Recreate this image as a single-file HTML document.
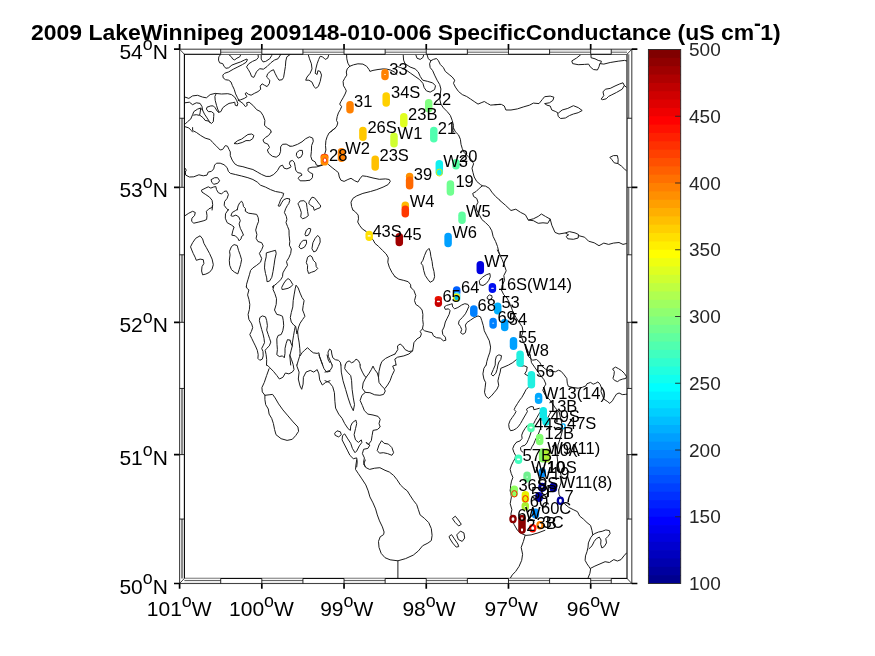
<!DOCTYPE html><html><head><meta charset="utf-8"><title>Lake Winnipeg Specific Conductance</title>
<style>html,body{margin:0;padding:0;background:#fff}svg{display:block}text{font-family:"Liberation Sans",sans-serif}</style></head><body>
<svg width="875" height="656" viewBox="0 0 875 656">
<rect width="875" height="656" fill="#fff"/>
<g fill="none" stroke="#1c1c1c" stroke-width="1" stroke-linejoin="round" stroke-linecap="round">
<path d="M220.5 54.6 L218.8 56.9 L218.5 60.1 L219.6 62.8 L222.8 63.7 L224.1 66.5 L226 68.3 L228.7 67.8 L231.9 65.1 L236 63.5 L240.6 61.9 L244.3 60.1 L247 59 L247.4 59.9 L246.1 62.3 L242.4 64.6 L237.9 66.9 L233.3 69.2 L228.7 71.9 L224.6 73.3 L222.8 75.1 L223.2 77.9 L225.5 79.7 L228.7 80.2 L231 82 L232.4 85.6 L234.2 89.3 L235.6 93.9 L237.4 97.5 L238.9 100.5"/>
<path d="M228.7 54.6 L231 56.4 L232.8 59.1 L234.7 59.9 L236.9 58.2 L239.7 56.9 L240.6 55 L240.1 54.4"/>
<path d="M258 54.4 L258.4 57.3 L256.6 59.6 L252.5 61.4 L248.8 63.7 L246.5 66.9 L248.4 69.7 L250.2 72.9 L251.6 76.5 L253.8 77.4 L255.2 74.7 L256.6 71.5 L259.8 68.7 L263.4 69.2 L267.1 66.5 L270.8 62.8 L274.4 60.1 L278.1 58.7 L280.4 55 L280.6 54.4"/>
<path d="M261.2 54.6 L261.2 59.1 L263 61.9 L265.7 61.4 L269.8 58.7 L271.7 55.5 L271.9 54.4"/>
<path d="M290 54.6 L286.8 56.9 L285.8 61 L285.4 66.5 L284.5 71.9 L283.6 77.4 L282.2 79.7 L279 80.2 L277.2 77.4 L275.3 73.8 L273.5 69.7 L270.8 71 L267.6 73.8 L266.6 77 L269.8 80.2 L269.4 83.4 L267.1 86.6 L264.4 85.2 L262.1 83.8 L260.2 86.1 L260.7 89.3 L258 91.6 L254.3 93.4 L251.1 95.2 L248.4 94.3 L246.1 92.5 L245.2 93.9 L247 96.6 L244.3 98.4 L240.6 99.8 L238.3 100.3"/>
<path d="M185 97.1 L188.8 98.4 L192.6 95.9 L197.6 95.3 L202.6 97.1 L206.4 97.8 L210.2 94.6 L215.2 93.4 L221.5 94 L227.8 93.7 L231.5 94.6 L234.7 97.1 L236.6 100.3 L237.8 103.4 L237.2 105.9 L235.3 105.3 L234.7 102.2 L232.2 102.8 L229 103.4 L225.9 105.3 L222.7 107.8 L220.9 111.6 L219 112.2 L217.7 109.1 L216.5 105.3 L215.2 100.3 L214.9 96.5 L216.1 93.7"/>
<path d="M185 102.8 L189.4 102.2 L192.6 104.7 L196.3 102.8 L200.1 103.4 L202 106.6 L202.6 110.3 L204.5 114.1 L207 117.9 L209.5 121.7 L211.4 123.5 L213.3 121.7 L213.7 116.6 L213.9 113.5 L211.4 111.6 L208.3 111.6 L206.4 109.1 L207 107.2 L210.8 105.9 L213.3 105.9 L215.2 107.8 L217.1 111 L218.7 112.5"/>
<path d="M185 124.2 L187.5 121.7 L190.7 119.1 L192.6 114.7 L193.8 111.6 L197.6 109.1 L200.7 108.1 L200.1 112.9 L199.5 115.4 L196.3 114.7 L193.6 115.1"/>
<path d="M200.7 108.1 L202.6 110.3"/>
<path d="M200.1 115.4 L203.3 117.9 L205.1 120.4 L208.3 121 L210.2 122.9"/>
<path d="M185 126.7 L188.8 127.9 L191.3 130.5 L192.6 132"/>
<path d="M238.5 100.3 L242.9 103.4 L245.4 106.6 L247.3 105.3 L246.6 102.8 L249.1 102.2 L252.9 105.3 L256.7 109.7 L260.5 111.6 L263 115.4 L264.9 120.4 L264.5 125.4 L267.4 127.9 L270.5 129.8 L271.1 132"/>
<path d="M308.3 54.8 L309.5 58.8 L311.4 63.8 L312 68.9 L310.1 73.3 L307 77 L305.7 80.2 L308.9 80.2 L312 82.1 L313.9 86.5 L315.8 88.3 L318.3 86.5 L320.2 81.4 L321.5 75.1 L320.2 71.4 L317.9 70.7 L317.1 74.5 L315.2 73.3 L315.8 68.9 L317.1 63.8 L318.7 59.4 L320.2 56.3 L322.7 56.9 L325.2 59.4 L327.7 58.2 L328.7 55"/>
<path d="M346.6 54.8 L346.8 58.8 L347.9 63.2 L349.7 66.3 L353.5 64.8 L357.9 63.8 L362.9 64.1 L366.7 66.3 L369 69.5 L369.9 71.4 L373 70.4 L378 69.5 L383.1 68.9 L386.8 69.1 L390.6 70.1 L394.4 72 L396.9 74.5"/>
<path d="M349.7 66.3 L347.2 68.9 L346.3 72 L346.8 75.1 L344.7 78.3 L343.1 81.4 L343.5 85.8 L345.1 88.3 L346.3 90.9 L345.1 94 L343.1 97.8 L340.9 101.5 L339.7 104.1 L341.6 106.6 L340.3 109.7 L338.4 112.9 L337.2 116.6 L336.5 120.4 L337.8 122.9 L336.8 126.1 L334.7 128.6 L332.1 130.5 L330.9 132"/>
<path d="M403.2 54.8 L403.6 60.1 L405.1 63.8 L410.1 67 L415.1 68.9 L418.3 72 L420.2 76.4 L422.7 80.2 L427.7 81.4 L432.7 82.9 L435.5 85.8 L434.6 89.6 L430.2 92.1 L426.5 90.9 L424.2 87.7 L422.9 83.3 L419.5 79.5 L415.1 76.4 L410.7 73.3 L407 70.7 L403.8 68.9 L400.7 67.6 L397.5 66.6"/>
<path d="M415.8 54.8 L417 58.2 L420.2 59.4 L422.9 57.5 L423.7 54.8"/>
<path d="M427.1 54.8 L428.3 58.8 L430.9 60.7 L433.4 59.4 L436.5 58.5 L438.4 60.7 L440.3 64.5 L443.4 67.6 L445.3 71.4 L449.1 74.5 L452.2 77 L454.7 80.2 L453.5 83.3 L455.4 87.1 L458.5 91.5 L462.3 94.6 L466.7 96.5 L470.5 99 L474.2 101.5 L478 104.1 L481.1 102.8 L484.3 101.5 L487.4 103.4 L490.6 105.1 L495.6 104.7 L500 104.3"/>
<path d="M430.9 60.7 L429.6 63.8 L430.2 67.6 L432.7 70.7 L434.6 75.1 L437.1 80.2 L439.7 84.6 L440.9 89 L440.3 94 L439.7 99 L440.9 104.1 L443.4 107.8 L447.2 111.6 L450.3 115.4 L452.2 120.4 L453.5 125.4 L452.9 130.5 L453.5 132"/>
<path d="M495 104.7 L501.4 104.4 L504.3 106 L505.9 110 L511 110 L517.4 108.9 L523.8 106.8 L529.4 105.2 L533.4 103.1 L539 103.6 L542.2 99.6 L544.6 96.7 L550.2 96.1 L553.9 97.2 L552.9 100.4 L549.4 102.8 L544.6 103.6 L547 105.2 L550.2 106 L551.8 110 L555.8 111.6 L558.2 113.2 L562.2 110 L567.8 108.4 L573.4 105.7 L578.2 107.6 L582.2 110.5 L578.2 112.7 L573.4 114 L569.4 115.6 L565.4 118 L560.6 118.5 L558.2 116.4 L557.7 113.5"/>
<path d="M580.6 54.8 L576.6 58 L571.8 60.9 L572.6 63.6 L578.2 64.7 L584.6 64.4 L588.6 64.1 L590.2 66.8 L593.4 69.5 L597.4 70 L599 66.8 L599.8 63.6 L603.8 64.1 L610.2 62.5 L618.2 61.2 L624.6 60.4 L626.5 60.9"/>
<path d="M591 54.8 L591 57.7 L595 58.8 L598.2 60.4 L601.4 61.2 L600.6 63.6"/>
<path d="M601.4 98.8 L603.8 95.6 L603 91.9 L605.4 89.2 L610.2 88.4 L615 86 L619.8 83.9 L623 82.8 L624.3 85.5 L622.2 89.2 L616.6 92.4 L611.8 94.8 L608.6 96.4 L606.2 98.8 L603 99.6 Z"/>
<path d="M624.3 85.5 L626.2 87.1"/>
<path d="M192.6 127.6 L192.6 130.5 L196.3 132.4 L200.7 135.5 L205.1 138.1 L210.2 139.6 L212.7 142.5 L216.5 146.2 L220.2 150 L222.7 149.4 L225.3 145.6 L227.5 146.2 L229 149.4 L230.3 151.9 L230.3 155.7 L232.2 160.1 L234.7 163.8 L237.8 165.7 L242.9 166.7 L247.9 168.2 L252.9 169.5 L257.3 172 L261.7 174.5 L266.1 176.4 L269.9 176.4 L273.7 174.5 L277.4 170.7 L279.9 166.3 L282.5 165.1 L284.1 168.2 L286.9 168.9 L290 167.6"/>
<path d="M234.3 143.3 L237.8 140.6 L241.6 139.1 L244.7 136.8 L247.9 134.5 L251.7 134 L253.9 135.5 L252.7 138.7 L249.8 140.6 L246 140.6 L242.2 142.5 L237.8 143.7 Z"/>
<path d="M271.1 132 L268.6 135.5 L265.5 137.4 L263 139.9 L264 142.5 L268 144.3 L269.5 147.5 L267.4 150 L268.6 153.1 L272.4 156.3 L276.2 157.2 L279.3 155 L280.6 151.3 L280.6 146.9 L282.5 144.3 L286.2 144.1 L290 146.2"/>
<path d="M185 168.2 L186.3 170.1 L185.3 172 L185.7 175.1 L189.4 177 L193.8 176.8 L198.9 174.8 L203.3 175.8 L207 175.1 L208.3 172 L211.4 171.4 L213.7 168.9 L214.6 165.1 L216.5 163.2 L220.2 163.2 L224 164.7 L227.1 167.6 L228.4 171.4 L230.3 173.3 L235.3 174.5 L241.6 176 L247.9 177.7 L252.9 179.5 L257.3 182.1 L260.5 185.2 L265.5 187.1 L270.5 189.6 L275.5 191.5 L280.6 192.4 L283.7 193.4 L282.8 196.5 L280.6 199.7 L279.3 203.4 L278.1 205.9 L279.9 206.2 L281.6 202.8 L283.7 199.7 L286.9 198.4 L289.4 199"/>
<path d="M211.4 179.5 L214.6 177.7 L217.7 177.7 L219.6 180.8 L217.7 183.3 L213.9 184.3 L212.1 182.7 Z"/>
<path d="M212.1 210 L212.7 204.7 L212.1 200.3 L209.5 197.1 L205.8 194.6 L202 192.1 L201.4 190.2 L205.1 188.3 L208.3 186.8 L210.8 188.1 L213.3 187.1 L215.8 186.5 L216.5 189.6 L218.3 192.7 L221.5 194 L224 191.5 L226.5 190.9 L228.4 194.6 L227.1 198.4 L224.6 201.5 L224.2 205.3 L226.5 208.5 L228.4 210"/>
<path d="M237.2 210 L238.1 205.9 L239.7 202.8 L241.6 201.2 L242.9 203.4 L243.5 206.6 L245.4 208.5 L245.4 210.3"/>
<path d="M335.3 128 L332.1 130.5 L329 133 L327.1 136.8 L325.9 140.6 L325.5 145.6 L325.9 150 L324.6 154.4 L324.2 159.4 L328.4 164.5 L332.1 167.6 L335.3 170.1 L338.4 172.6 L339.3 177 L340.9 180.2 L344.1 181.4 L347.9 179.5 L351 178.3 L354.8 180.8 L357.9 182.1 L359.8 178.9 L362.3 175.8 L366.7 176.4 L373 178 L379.3 179.3 L385.6 178.9 L389.3 179.5 L390.3 181.4 L388.1 184.6 L383.1 187.1 L376.8 189.6 L370.5 191.5 L362.9 193.4 L356.7 195.9 L352.9 198.4 L351 202.2 L351.6 206.6 L352.9 210"/>
<path d="M290 146.2 L292.5 146.2 L297.6 144.3 L302 141.8 L305.7 138.7 L309.5 136.8 L312.7 138.1 L313.3 141.2 L311.6 145.6 L311.4 151.3 L310.8 156.3 L312 160.1 L315.2 161.9 L316.4 165.1 L318.9 165.7 L322.7 164.5"/>
<path d="M322.7 165.1 L316.4 167 L312 167.2 L308.3 168.2 L307.9 170.7 L310.1 172.6 L312.7 173.9 L312.4 177.7 L310.1 180.2 L305.1 180.8 L300.1 180.8 L298.2 178.3 L299.5 176.4 L302 175.1 L301.1 173.3 L297.6 172.6 L295.7 170.1 L295.1 166.3 L294.4 162.6 L292.5 160.4 L290 161.3 L289.4 163.8 L291 166.3 L290 167.6"/>
<path d="M296.9 152.5 L299.5 150.4 L302.3 150.4 L302.6 153.8 L301.1 156.9 L298.2 158.2 L296.6 155.9 Z"/>
<path d="M453.5 128 L455.4 131.8 L458.5 134.9 L460.4 139.3 L461 144.3 L462.3 148.7 L464.2 152.5 L467.9 156.3 L471.7 160.1 L473.6 163.8 L472 168.2 L473 172.6 L474.2 177 L476.7 181.4 L480.5 184.6 L482.4 185.8 L485.5 186.1 L489.3 188.3 L491.8 192.1 L495.6 196.5 L500 200.3"/>
<path d="M482.4 185.8 L479.3 188.3 L476.1 191.5 L472.7 193.4 L473.6 196.5 L476.7 198.4 L478 202.2 L476.1 205.9 L476.7 210"/>
<path d="M499.8 200.4 L505.4 205.2 L511 210.5 L515.8 209.2 L520.6 212.4 L525.4 214.8 L528.3 220.1 L533.4 218.8 L538.2 216.4 L541.4 214 L545.4 216.4 L550.2 219.1 L547.8 223.3 L543 222.8 L538.2 223.3 L533.4 220.7 L528.6 220.1"/>
<path d="M550.2 219.1 L551.8 225.2 L555 232.4 L559 234 L565.4 232.9 L569.4 231.6 L575 232.9 L578.5 234.5 L578.2 238 L573.4 239.3 L567.8 238.8 L566.2 236.4 L568.6 234.8 L565.7 233.2"/>
<path d="M578.5 235.6 L584.6 237.2 L588.6 241.2 L594.2 242.8 L599 245.7 L603.8 243.1 L608.6 244.4 L613.4 243.1 L619 242.5 L623 244.4 L626.2 243.6"/>
<path d="M610.2 157.2 L613.4 155.6 L617.4 155.6 L618.2 159.6 L617.9 163.6 L614.2 162.8 L611.8 159.6 Z"/>
<path d="M617.9 163.6 L621.4 166 L624.6 169.2 L626.2 170.5"/>
<path d="M185 215.7 L188.8 213.2 L192.6 211.3 L195.3 212.5 L194.5 215.7 L191.9 218.2 L191.6 221.3 L193.8 223.2 L198.9 222 L203.9 220.7 L206.6 219.5 L207 215.7 L206.4 211.3 L208.9 208.8 L212.1 207.5 L212.4 205.6"/>
<path d="M228.4 209.4 L225.5 213.8 L225.3 218.2 L227.1 222.6 L231.5 225.1 L234.1 227 L232.8 230.8 L231.8 235.2 L235.3 235.8 L237.8 238.3 L239.1 240.8 L241 238.9 L241.6 236.4 L243.5 235.2 L242.2 232 L240.3 228.3 L239.1 223.9 L240.3 220.7 L238.8 216.9 L235.9 215.1 L232.8 216.3 L230.9 215.7 L232.2 212.5 L235.3 210.7 L237.2 209.4"/>
<path d="M245.4 209.8 L245.4 211.3 L248.5 213.2 L252.9 213.8 L256.7 214.4 L258.2 217.6 L258.6 221.3 L256.9 225.7 L255.7 230.1 L256.9 234.5 L256.1 238.3 L257.9 241.5 L261.7 242.7 L263.2 245.9 L261.7 249.6 L259.4 253.4 L260.5 255.9 L261.7 258.4 L260.5 262.2 L256.7 265.3 L252.9 267.9 L250.6 270.4 L249.4 274.8 L247.9 279.8 L246.6 284.2 L246.4 287"/>
<path d="M190.7 246.5 L192.6 242.7 L195.7 238.3 L200.1 235.8 L202.6 238.9 L203.9 243.3 L206.4 247.7 L209.5 253.4 L212.1 259.1 L213.3 264.7 L212.1 269.1 L209.5 272.3 L205.8 274.1 L202.6 274.8 L201.6 271 L202 266.6 L203.9 263.5 L203.3 259.7 L200.1 259.1 L196.3 260.3 L195.1 257.2 L193.2 253.4 L191.9 250.3 Z"/>
<path d="M229.7 250.9 L231.5 246.5 L234.1 244.6 L237.2 245.5 L238.5 250.3 L240.1 254.7 L241.6 259.7 L240.6 264.7 L239.1 269.7 L237.8 273.9 L234.7 272.3 L231.5 269.7 L229.7 265.3 L229.3 260.3 L230 255.3 Z"/>
<path d="M266.7 252.8 L271.1 251.5 L275.5 250.3 L276.2 253.4 L274.9 259.1 L274 265.3 L273 271.6 L271.8 277.3 L269.5 281.1 L267 281.7 L266.7 277.9 L265.5 273.5 L264.5 267.9 L264.9 262.2 L266.1 257.2 Z"/>
<path d="M289.4 199 L289.8 200.3 L288.8 203.5 L287.3 205.6 L285.6 208.8 L284.4 212.5 L286.3 216.3 L286.9 219.5 L286 222.6 L287.5 226.4 L289 230.1 L289.1 235.2 L289.8 241.5 L289.4 245.2 L291.3 249 L290.7 253.4 L288.8 257.8 L286.5 261.6 L287.5 265.3 L285 269.1 L282.9 272.9 L282.5 276.7 L280.6 279.8 L277.5 282.9 L274.3 285.5 L272.4 287"/>
<path d="M298.2 203.5 L300.1 201 L303.9 200.7 L306.4 202.9 L307 207.5 L307.6 211.3 L308.3 215.7 L305.7 217.6 L302.6 218.8 L300.7 216.9 L301.3 212.5 L300.1 208.8 L298.8 205.6 Z"/>
<path d="M309.5 201 L312 197.2 L314.5 197.8 L317.1 201 L319.6 204.4 L320.8 206 L319.9 207.8 L317.1 208.8 L314.2 210.3 L313.3 206.9 L310.8 205.6 L309.1 203.7 Z"/>
<path d="M305.1 233.9 L306.4 230.1 L308.9 228.3 L310.8 228.9 L310.1 232 L308.3 235.2 L306.1 235.8 Z"/>
<path d="M299.1 246.5 L300.7 242.7 L303.2 240.4 L306.4 240.2 L306.6 243.3 L304.5 247.1 L301.3 248.7 Z"/>
<path d="M312 248.4 L312.9 242.7 L315.2 238.3 L317.7 235.4 L319.9 237.9 L320.2 242.1 L318.3 246.5 L316.2 250.9 L314.2 251.8 Z"/>
<path d="M306.4 262.2 L307.6 257.2 L310.1 255.5 L312 256.8 L313.3 260.3 L315.8 262.8 L316.2 266.6 L317.7 268.5 L315.2 271 L311.4 272.3 L308.6 273.5 L307.4 269.7 L307.6 266 Z"/>
<path d="M352.9 210 L355.4 211.9 L358.2 215.1 L358.5 218.8 L357.7 222 L359.8 225.7 L362.3 228.9 L366.1 231.4 L369 235.8 L373 239.6 L374.9 243.3 L378.7 246.5 L382.4 250.3 L386.2 254 L388.3 257.8 L387.8 262.2 L389.3 267.2 L391.9 272.3 L395 276.7"/>
<path d="M476.7 210 L479.9 215.7 L481.8 219.5 L485.5 222.6 L489.3 226.4 L491.8 230.8 L493.1 236.4 L495.6 241.5 L497.5 246.5 L498.7 251.5 L500 255.3"/>
<path d="M421.2 262.8 L422.9 260.3 L424.6 255.3 L426.5 250.9 L429 248.4 L430.2 251.5 L430.9 256.5 L432.1 261.6 L432.7 266.6 L434 271.6 L434.6 276.7 L433.4 280.4 L430.2 282.3 L427.7 279.2 L425.2 275.4 L423.7 270.4 L422.9 266 Z"/>
<path d="M479.5 280.4 L482.4 277.3 L486.2 274.8 L489.9 273.5 L490.3 276.7 L488.7 280.4 L486.2 283.6 L483 285.5 L480.3 284.8 Z"/>
<path d="M395 276.7 L398.8 279.2 L403.8 280.4 L408.2 281.7 L410.7 284.8 L410.7 287"/>
<path d="M497.4 250 L499.8 254.8 L502.2 259.6 L504.6 266 L506.2 270.8 L503.8 275.6 L504.6 280.4 L502.2 285.2 L501.4 290 L503.8 294.8 L507 298 L510.2 304.4 L512.6 310.8 L515.8 317.2 L519 322 L522.2 326.8 L523 331.6 L521.4 336.4 L523 341.2 L525.4 346 L528.6 352.4 L530.2 355"/>
<path d="M246.4 287 L247.3 288.7 L248.9 289.9 L247.6 294.9 L248.9 299.3 L249.8 304.4 L249.4 309.4 L248.1 314.4 L248.9 319.5 L251.7 323.9 L252.7 327.6 L251.4 331.4 L249.8 334.5 L251.7 338.3 L253.5 342.1 L255.4 345.9 L257.3 350.3 L258.2 354.7 L257.9 358.4 L259.8 360.3 L262.3 359.1 L263.2 355.9 L263 351.5 L261.7 348.4 L263 345.9 L264.5 342.7 L264 338.3 L263 333.9 L261.7 329.5 L260.5 325.1 L259.4 320.7 L259.8 317.6 L262.3 315.9 L265.5 316.9 L266.7 320.7 L267.4 325.7 L266.7 330.1 L268.2 334.5 L269.5 338.3 L270.8 342.1 L269.3 345.9 L266.7 348.4 L265.2 350.3 L266.1 354.7 L266.7 359.7 L266.5 365"/>
<path d="M272.4 287 L274 285.5 L273 289.3 L274.9 293.7 L276.5 298.7 L276.2 304.4 L274.5 310 L276.8 314.4 L279.9 315.1 L282.5 316.3 L283.3 320.7 L283.7 325.7 L282.8 330.8 L281.2 334.5 L278.1 335.5 L276.8 338.9 L277 344.6 L277.4 349.6 L276.8 354.7 L279.3 356.5 L282.5 355.9 L284.3 357.8 L285 353.4 L285 348.4 L286.2 343.3 L287.5 339.6 L290 340.2"/>
<path d="M281.9 287 L284 283 L286.3 279.9 L288.1 278.6 L290.3 280.2 L291.9 283 L292.8 284.5 L291.3 286.5 L288.1 288.3 L285 289 L282.5 289.5 Z"/>
<path d="M296.3 285.5 L298.2 288 L300.1 293.1 L302 297.5 L304.1 300.6 L303.2 305.6 L302.6 310 L304.1 313.8 L304.9 316.3 L302.6 319.5 L300.1 323.2 L298.6 327 L297.6 331.4 L296.9 333.9 L296.3 330.1 L295.7 326.4 L293.8 325.1 L291.3 322 L290.3 317.6 L291.3 312.5 L292.8 306.9 L293.2 300.6 L294.1 294.9 L295.1 289.3 Z"/>
<path d="M295.3 326.4 L294.4 330.8 L293.5 335.8 L292.5 342.1 L292.3 345.9 L291 350.9 L289.8 355.9 L290.3 360.9 L290.7 365"/>
<path d="M297.6 331.4 L298.2 337.1 L299.1 342.1 L299.8 348.4 L300.1 353.4 L299.5 356.5 L298.2 360.9 L296.9 365"/>
<path d="M290 340.2 L291.3 344 L292.3 345.9"/>
<path d="M300.1 355.9 L302 352.8 L304.5 350.3 L307.6 347.7 L310.1 350.3 L313.3 352.8 L317.1 353.4 L318.9 352.8 L319.6 356.5 L321.5 361.6 L322.7 365"/>
<path d="M332.1 365 L330.3 360.9 L328.4 356.5 L328 352.1 L329.6 349 L331.3 350.3 L331.8 354 L332.8 357.8 L335.3 359.7 L338.4 360.3 L340.3 362.2 L340.9 365"/>
<path d="M345.3 365 L346.6 362.2 L349.1 360.9 L351.6 362.8 L354.1 361.6 L356 359.1 L358.5 360.7 L359.8 363.5 L360.2 365"/>
<path d="M380.5 365 L381.8 361.6 L385.6 358.4 L390.6 355.9 L395 354"/>
<path d="M410.7 287 L411.4 288 L413.9 290.5 L415.8 295.6 L414.5 300.6 L415.8 304.4 L419.5 306.9 L422.1 310 L422.9 314.4 L422.7 319.5 L423.3 324.5 L422.4 328.9 L424.6 330.8 L429 332 L432.1 332.7 L433.4 335.8 L436.5 337.7 L440.3 338.1 L443.4 340.8 L445.9 340.2 L445.3 337.1 L442.8 334.5 L442.2 330.8 L444.1 327 L445.3 322 L447.2 318.2 L449.1 314.4 L450.1 310.7 L448.5 308.8 L445.3 309.4 L444.3 306.9 L446.6 305.4 L450.3 304.4 L452.2 303.7 L452.6 306.9 L454.7 308.8 L457.9 307.5 L461.7 305 L464.8 303.7 L467.9 304.4 L468.9 306.3 L467.3 310 L465.4 313.8 L462.3 317.6 L459.1 320.7 L458.5 323.9 L460.4 326.4 L461.7 329.5 L460.6 332.7 L462.9 334.3 L465.4 332.7 L466.1 328.9 L465.4 325.1 L466.9 322.6 L470.5 320.1 L474.2 317.6 L478 315.9 L480.5 316.9 L481.8 320.7 L483.3 325.7 L484.3 330.8 L486.8 335.8 L489.3 340.8 L490.6 347.1 L489.9 352.1 L488.1 357.2 L486.8 361.6 L486.2 365"/>
<path d="M422.4 328.9 L420.2 331.4 L421.4 333.9 L420.2 337.1 L417 338.9 L413.9 342.7 L413.3 347.1 L412.6 350.9 L408.9 351.5 L405.1 349.6 L402.6 345.9 L400.1 344 L397.5 345.9 L397.8 349.6 L395 354"/>
<path d="M412.6 350.9 L408.9 354 L403.8 355.9 L397.5 357.2 L394.8 359.1 L395.7 362.8 L396 365"/>
<path d="M487.4 296.8 L489.3 294.9 L491.8 295.6 L492.1 298.1 L489.9 299.6 L487.8 299.1 Z"/>
<path d="M266.4 364.9 L268.3 366.1 L270 367.9 L273.4 371.3 L276.9 375.6 L279.4 379 L282.9 377.3 L285.4 373 L288.9 373.9 L292.3 372.1 L294 369.6 L293.1 364.4 L291.4 359.3 L289.7 355"/>
<path d="M269.1 368.7 L266.6 375.6 L264.3 382.4 L261.9 387.6 L262.3 391.9 L264.9 395.3 L269.1 394.8 L272.6 394.4 L275.1 397.9 L278.6 403.9 L282.9 409.9 L288 415.9 L293.1 421.9 L297.9 427 L298.6 431.3 L295.7 435.6 L292.3 439.3 L287.1 440.4 L281.1 438.7 L276 434.7 L274.6 429.6 L273.4 423.6 L271.7 418.4 L269.1 414.1 L268.3 409 L265.7 404.7 L264.9 399.6 L264.9 395.3"/>
<path d="M296.9 364.9 L296.9 366.1 L299.1 372.1 L298.3 379 L300 385.9 L301.7 389.3 L303.1 384.1 L303.4 377.3 L306 372.1 L310.3 370.4 L313.7 372.1 L317.2 369.6 L318.9 373.9 L319.7 379.9 L322.3 385 L325.7 382.4 L330 380.7"/>
<path d="M318.9 355 L321.4 361.9 L324 368.7 L326.6 372.1 L330 371.3"/>
<path d="M327.1 355 L328.3 360.1 L330 362.7"/>
<path d="M332.1 364.9 L332.2 367 L330.1 370.4 L325 372.1"/>
<path d="M325 380.7 L329.3 382.4 L332.7 386.7 L334.4 392.7 L334.9 401.3 L335.6 408.1 L338.7 414.1 L342.1 418.4 L344.7 423.6 L348.1 428.7 L350.4 430.4 L350.7 426.1 L352.4 422.7 L355.9 420.1 L356.7 423.6 L355.5 428.7 L354.1 434.7 L355.5 439.9 L358.4 442.4 L361.3 439.9 L361.9 442.4 L359.3 445.9 L356.7 451 L355 452.7 L352.4 448.4 L350.7 443.3 L347.3 438.1 L344.7 433.9 L342.5 435.6 L342.1 439.9 L344.7 445 L347.3 450.1 L349.9 455.3 L353.3 458.7 L356.7 457.9 L357.2 462.1 L356.7 466.9"/>
<path d="M340.9 364.9 L341.3 372.1 L343 380.7 L345.6 389.3 L348.1 397.9 L350.7 405.6 L353.3 410.7 L354.5 404.7 L353.3 397.9 L352.1 389.3 L351.6 380.7 L350.7 375.6 L347.3 372.1 L344.7 368.7 L345.3 364.9"/>
<path d="M360.1 364.9 L360.1 367 L362.4 372.1 L364.8 376.4 L366.1 377.3"/>
<path d="M366.1 377.3 L368.7 373.9 L371.3 369.6 L373 366.1 L374.7 369.6 L377.3 373 L378.5 377.3 L379 382.4 L381.6 385.9 L384.1 388.4 L385.3 391 L383.6 394.4 L379.9 395.3 L374.7 394.8 L369.9 392.7 L365.3 392.4 L362.4 388.4 L363.1 383.3 Z"/>
<path d="M365.3 392.4 L361.9 395.3 L360.1 400.4 L362.4 405.6 L364.4 410.7 L367.9 414.1 L373 415 L378.1 416.4 L380.2 419.3 L379 423.6 L380.2 427 L377.3 429.6 L373 430.4 L372.1 435.6 L371.3 440.7 L368.7 444.1 L366.1 442.4 L367.5 444.1 L369.9 445 L367.9 448.4 L363.6 449.3 L362.4 453.6 L364.4 457.9 L363.6 462.1 L365.3 466.9"/>
<path d="M378.5 377.3 L379 371.3 L380.5 364.9"/>
<path d="M396 364.9 L392.7 366.1 L394.4 370.4 L391.9 375.6 L390.1 380.7 L387.6 385 L385 388.4"/>
<path d="M377.3 450.1 L379 445 L381.6 440.7 L384.1 443.3 L388.4 444.1 L391.9 447.6 L393.6 452.7 L391.9 455.3 L387.6 453.6 L383.3 452.7 L379.9 453.1 Z"/>
<path d="M334.9 433 L337 430.8 L340.4 431.8 L341.3 434.7 L338.7 436.9 L335.6 435.6 Z"/>
<path d="M356.7 460 L355.9 465.1 L355.5 469.4 L358.4 473.7 L361.9 478.9 L365.8 484.9 L368.2 490.9 L369.9 496.9 L373 502.9 L375.6 508.9 L377.3 514.9 L379.5 520.9 L382.4 526.9 L384.1 532 L383.6 534.6 L380.2 536.8 L378.5 541.4 L379 547.4 L381.2 553.4 L385 557.7 L390.1 559.8 L397.9 560.8 L405.6 558.6 L413.3 555.1 L418.4 550.9 L422.7 545.7 L427.9 543.1 L431.3 540.6 L432.1 535.4 L431.3 528.6 L428.7 522.6 L424.4 518.3 L420.1 514.9 L418.4 509.7 L416.7 504.6 L413.3 500.3 L409.9 495.1 L407.3 490.9 L403.9 488.3 L400.4 484.9 L397 479.7 L393.6 475.4 L389.3 472 L385 470.3 L379.9 467.7 L374.7 468.2 L369.6 469.4 L366.1 467.7 L363.6 464.3 L365.3 460"/>
<path d="M397.9 560.8 L397.9 578.3"/>
<path d="M452.7 518.3 L455.3 516.2 L458.4 520 L461.3 524.3 L458.7 526 L455.3 522.6 Z"/>
<path d="M457 534.6 L460.4 531.1 L463.9 532.9 L464.7 538 L462.2 541.4 L458.7 539.7 Z"/>
<path d="M449.3 536.3 L451.5 534.6 L454.4 538.9 L457.9 544 L458.7 546.6 L456.2 547.1 L452.7 543.1 L450.2 539.2 Z"/>
<path d="M530.2 355 L531.5 362.7 L534.6 367.1 L537.7 371.5 L540.9 375.9 L544 379.7 L545.9 384.1 L544 387.2 L542.8 390.3 L544.7 394.1 L547.2 397.3 L550.3 400.4 L555.3 407.9 L559.1 412"/>
<path d="M525.2 346.3 L527.1 352.6 L528.9 357 L532.7 360.2 L536.5 359.5 L539.6 362.1 L541.5 365.8 L545.3 369 L550.3 371.5"/>
<path d="M486.1 365 L483.9 368.3 L482.9 373.9 L483.9 379 L485.7 382.7 L485.1 387.8 L484.5 392.2 L485.7 395.9 L488.3 398.5 L491.4 395.9 L494.5 392.2 L497.1 389 L498.7 385.3 L497.9 380.9 L498.9 376.5 L500.2 372.1 L500.8 368.3 L504 367 L508.4 365.1 L512.8 362.6 L516.5 359.5"/>
<path d="M491.4 373.9 L493.3 369.5 L495.2 365.1 L495.4 360.1 L496.4 356.3 L498.9 354.8 L501.5 355.7 L500.8 359.5 L498.9 362 L497.9 365.1 L497.1 369.5 L495.8 373.3 L493.3 375.8 Z"/>
<path d="M520.3 366.4 L524.1 365.8 L527.2 367 L526.6 370.8 L524.7 373.9 L527.9 375.8"/>
<path d="M528.5 387.1 L526 389.7 L524.1 393.4"/>
<path d="M551.2 371.3 L555.4 371.8 L558.5 370.2 L561.1 371.3 L564.2 374.9 L566.8 378.5 L567.3 383.2 L568.3 386.3 L573 387.5 L578.2 388.2 L582.3 387.3 L586 385.8 L587 383.7 L590.6 382.4 L593.2 384.2 L595.8 383.2 L597.9 381.9 L600 384.2 L601.5 387.8 L601 391.5 L602.5 395.6 L604.1 399.3 L607.2 401.3 L609.8 403.4 L612.4 400.8 L614.5 397.2 L616.5 394.1 L619.1 393 L622.3 394.6 L625.4 394.4 L626.9 394.1"/>
<path d="M612.9 368.7 L615.5 367.1 L618.6 368.7 L621.7 370.7 L624.3 373.3 L626.4 376.4 L625.9 378.5 L622.8 379 L619.7 380.1 L617.6 381.6 L615 380.6 L612.9 378.5 L614 374.9 L614.3 371.8 Z"/>
<path d="M523.9 393.7 L521.9 397.3 L519.7 400.1 L517.4 403.7 L515.1 407.4 L514.2 409.7 L516 411.5 L514.6 414.2 L512.3 417.4 L510.1 420.6 L508.7 424.3 L509.1 427.9 L510.5 430.7 L513.3 430.2 L516.5 428.4 L518.7 426.1 L520.6 423.4 L522.4 420.2 L524.2 417 L526.1 413.8 L527.4 411.5 L526.5 409.2 L528.3 407.8 L531.1 406.5 L533.4 406.9 L533.8 409.7 L536.1 409.2 L539.3 408.3"/>
<path d="M540.2 429.3 L538.8 433 L537 436.6 L535.2 440.3 L533.8 443.9 L532 446.7 L530.6 450"/>
<path d="M540.7 411.5 L538.8 414.2 L537 417.4 L535.2 420.6 L533.8 423.4 L532.9 425.2"/>
<path d="M551.2 411.5 L549.4 414.7 L547.5 418.3 L546.2 421.1"/>
<path d="M516.5 442.3 L514.2 445 L512.7 448.7 L513.9 452.3 L515.6 455.5 L515.1 458.3 L513.3 461.5 L511.5 465.1 L510.1 469.3 L511.2 473.4 L512.9 477.5 L511.5 481.1 L510.6 485.7 L510.3 491.2"/>
<path d="M510.2 490 L511.4 496.9 L510.2 503.7 L511.9 509.7 L510.9 514 L512.3 519.1 L514 524.3 L517.4 530.3 L521.7 533.7 L526 535.4 L531.1 534.9 L538 532.9 L544.9 530.3"/>
<path d="M525.1 535.4 L523.4 541.4 L521.2 547.4 L522.6 554.3 L521.7 560.3 L519.1 566.3 L515.7 571.4 L512.3 574.9 L510.2 578.3"/>
<path d="M558.7 490 L559 494.3 L560.9 498 L564.5 503.8 L568.8 507.4 L573.2 509.6 L577.5 511.7 L579.7 516.1 L583.3 519 L587 522.6 L590.6 525.5 L592 530.6 L592.8 534.9 L590.6 537.8 L588.4 542.9 L588 547.2 L587 551.6 L585.5 555.9 L585.1 560.3 L587 563.9 L589.1 566.8 L590.6 569 L589.9 573.3 L588 578.1"/>
<path d="M592.8 534.9 L594.9 533.5 L598.6 532 L602.2 531.3 L605.8 529.9 L609.4 530.6 L610.1 533.5 L608 536.4 L605.8 538.6 L606.5 542.9 L604.3 546.5 L601.9 548 L600.7 544.3 L601 540 L599.3 537.1 L596.4 538.6 L594.2 541.4 L592 545.8 L589.1 548.7"/>
<path d="M590.6 568.3 L594.9 566.1 L600 563.9 L605.1 561.7 L609.4 562.5 L613.8 559.6 L617.4 561 L621 559.6 L623.9 555.9 L626.5 553"/>
<path d="M527.3 425.5 L524.9 428.7 L522.9 432 L521.7 435.2 L522.1 438.4 L520.1 440.9 L516.8 442.1"/>
<path d="M531 432.4 L529.8 436 L528.5 439.3 L526.9 442.9 L524.9 445.3 L522.1 446.1 L520.5 447.7 L520.9 450.6 L522.9 452.2"/>
<path d="M559.1 412 L561 420 L563 428 L561 436 L558 445 L557 455 L558 465 L561 475 L561 483 L558.7 490"/>
</g>
<g>
<rect x="381.25" y="68.9" width="7.5" height="11.3" rx="3.75" fill="#FF8000"/>
<rect x="382.45" y="92.2" width="7.5" height="14.6" rx="3.75" fill="#FFD000"/>
<rect x="346.25" y="101" width="7.5" height="12.6" rx="3.75" fill="#FF8000"/>
<rect x="424.95" y="99" width="7.5" height="13.4" rx="3.75" fill="#80FF80"/>
<rect x="400.05" y="112.9" width="7.5" height="14.5" rx="3.75" fill="#E0FF20"/>
<rect x="430.05" y="126.7" width="7.5" height="15.8" rx="3.75" fill="#50FFB0"/>
<rect x="359.15" y="126.7" width="7.5" height="14.3" rx="3.75" fill="#FFC800"/>
<rect x="390.25" y="132.5" width="7.5" height="15.1" rx="3.75" fill="#D0FF30"/>
<rect x="337.75" y="148" width="7.5" height="13.9" rx="3.75" fill="#FF8000"/>
<rect x="320.5" y="153.8" width="8" height="6.2" rx="4" fill="#FF3000"/>
<rect x="320.6" y="154.5" width="7.8" height="11.1" rx="3.9" fill="#FF8C00"/>
<rect x="371.45" y="155.6" width="7.5" height="15.1" rx="3.75" fill="#FFC000"/>
<rect x="452.25" y="159" width="7.5" height="10.4" rx="3.75" fill="#50FFA0"/>
<rect x="435.55" y="160" width="7.5" height="15.7" rx="3.75" fill="#10F0F0"/>
<rect x="405.85" y="172.8" width="7.5" height="7.2" rx="3.75" fill="#FF9000"/>
<rect x="405.85" y="176.5" width="7.5" height="13.1" rx="3.75" fill="#FF6800"/>
<rect x="446.65" y="180.2" width="7.5" height="15.6" rx="3.75" fill="#70FF90"/>
<rect x="401.55" y="201.6" width="7.5" height="8.4" rx="3.75" fill="#FFB800"/>
<rect x="401.55" y="205.5" width="7.5" height="12.1" rx="3.75" fill="#FF3800"/>
<rect x="458.25" y="211.4" width="7.5" height="12.6" rx="3.75" fill="#60FFA0"/>
<rect x="395.55" y="233" width="7.5" height="13.3" rx="3.75" fill="#A00000"/>
<rect x="365.45" y="230.8" width="7.5" height="10.1" rx="3.75" fill="#FFE000"/>
<rect x="444.35" y="232.7" width="7.5" height="14.6" rx="3.75" fill="#00A0FF"/>
<rect x="476.55" y="260.9" width="7.5" height="13.3" rx="3.75" fill="#0000E0"/>
<rect x="488.65" y="283" width="7.5" height="10" rx="3.75" fill="#0010F0"/>
<rect x="452.95" y="286.3" width="7.5" height="9.7" rx="3.75" fill="#0060FF"/>
<rect x="452.95" y="292" width="7.5" height="9.9" rx="3.75" fill="#40E0FF"/>
<rect x="434.7" y="296.1" width="7.4" height="5.9" rx="3.7" fill="#E81000"/>
<rect x="434.7" y="299" width="7.4" height="7.9" rx="3.7" fill="#C80000"/>
<rect x="470.05" y="305.2" width="7.5" height="11.8" rx="3.75" fill="#0080FF"/>
<rect x="493.95" y="302.4" width="7.5" height="12.1" rx="3.75" fill="#00B0FF"/>
<rect x="489.35" y="317.7" width="7.5" height="11.1" rx="3.75" fill="#0080FF"/>
<rect x="500.95" y="318.7" width="7.5" height="12.6" rx="3.75" fill="#00A0FF"/>
<rect x="509.75" y="337.1" width="7.5" height="12.9" rx="3.75" fill="#00A0FF"/>
<rect x="516.35" y="350.6" width="7.5" height="16.4" rx="3.75" fill="#20F0E0"/>
<rect x="527.65" y="371.1" width="7.5" height="17.5" rx="3.75" fill="#20F0E0"/>
<rect x="534.85" y="392.7" width="7.5" height="11.3" rx="3.75" fill="#00A8FF"/>
<rect x="539.55" y="407.1" width="7.5" height="13.9" rx="3.75" fill="#10E8E8"/>
<rect x="542.25" y="417" width="7.5" height="8.7" rx="3.75" fill="#10E8E8"/>
<rect x="527.25" y="423" width="7.5" height="9.2" rx="3.75" fill="#50FFB0"/>
<rect x="535.95" y="433.7" width="7.5" height="11.5" rx="3.75" fill="#80FF70"/>
<rect x="538.85" y="448.2" width="7.5" height="14.2" rx="3.75" fill="#84F060"/>
<rect x="542.85" y="448.6" width="7.5" height="14" rx="3.75" fill="#B0F030"/>
<rect x="514.75" y="454.6" width="7.5" height="9.3" rx="3.75" fill="#40FFC0"/>
<rect x="538.55" y="468" width="7.5" height="9.5" rx="3.75" fill="#0090FF"/>
<rect x="523.35" y="471.6" width="7.5" height="11" rx="3.75" fill="#70F090"/>
<rect x="510.55" y="485.6" width="7.5" height="11.6" rx="3.75" fill="#90FF60"/>
<rect x="538.35" y="482.8" width="7.5" height="9.2" rx="3.75" fill="#0000A8"/>
<rect x="549.65" y="482.6" width="7.5" height="9.7" rx="3.75" fill="#0000A0"/>
<rect x="535.25" y="492" width="7.5" height="10" rx="3.75" fill="#0000B0"/>
<rect x="521.65" y="491" width="7.5" height="12" rx="3.75" fill="#E8F000"/>
<rect x="521.55" y="502" width="7.5" height="8.6" rx="3.75" fill="#A8F030"/>
<rect x="531.65" y="508.6" width="7.5" height="9.9" rx="3.75" fill="#0090FF"/>
<rect x="518.25" y="514.9" width="7.5" height="18.9" rx="3.75" fill="#8B0000"/>
<ellipse cx="439.3" cy="172.6" rx="3" ry="3.5" fill="none" stroke="#E8E800" stroke-width="0.9"/>
<ellipse cx="324.9" cy="160.2" rx="1.7" ry="2.2" fill="#fff" stroke="#FF2000" stroke-width="0.9"/>
<ellipse cx="456.5" cy="297.6" rx="2.9" ry="3.4" fill="#00C0E0" stroke="#F0F000" stroke-width="1.5"/>
<ellipse cx="514.3" cy="493.8" rx="2.7" ry="3.2" fill="none" stroke="#FF2000" stroke-width="1"/>
<ellipse cx="525.4" cy="498.8" rx="2.7" ry="3.2" fill="none" stroke="#FF2000" stroke-width="1"/>
<ellipse cx="560.4" cy="500.8" rx="2.6" ry="3.1" fill="#fff" stroke="#0000A0" stroke-width="2.3"/>
<ellipse cx="513" cy="519.1" rx="2.6" ry="3.1" fill="#fff" stroke="#8B0000" stroke-width="2.3"/>
<ellipse cx="522" cy="529.8" rx="2.2" ry="2.7" fill="#fff" stroke="#8B0000" stroke-width="2.2"/>
<ellipse cx="522" cy="518.6" rx="2" ry="2.5" fill="#fff" stroke="#8B0000" stroke-width="2.4"/>
<ellipse cx="532.7" cy="528.3" rx="2.6" ry="3.1" fill="#fff" stroke="#FF1000" stroke-width="2.3"/>
<ellipse cx="540" cy="525.2" rx="2.6" ry="3.1" fill="#fff" stroke="#FF8000" stroke-width="2.3"/>
<ellipse cx="542.1" cy="487.4" rx="2.2" ry="2.7" fill="#fff" stroke="#0000A8" stroke-width="2.4"/>
<ellipse cx="563.3" cy="426.2" rx="1.8" ry="2.3" fill="#fff" stroke="#00B4FF" stroke-width="1.4"/>
<rect x="384.3" y="74.1" width="1.4" height="1" rx="0.5" fill="#fff"/>
<rect x="367.6" y="235.3" width="3.2" height="1.2" rx="0.6" fill="#fff"/>
<rect x="436.8" y="300.75" width="3.2" height="1.5" rx="0.75" fill="#fff"/>
<rect x="491.1" y="287.75" width="2.8" height="1.1" rx="0.55" fill="#fff"/>
<rect x="492.2" y="322.8" width="2" height="0.8" rx="0.4" fill="#fff"/>
<rect x="537.4" y="397.85" width="2.4" height="0.9" rx="0.45" fill="#fff"/>
<rect x="529.4" y="426.8" width="3.2" height="1.6" rx="0.8" fill="#fff"/>
<rect x="516.9" y="458.4" width="3.2" height="1.8" rx="0.9" fill="#fff"/>
<rect x="539.2" y="439" width="1" height="1" rx="0.5" fill="#fff"/>
<rect x="526.3" y="476.4" width="1.6" height="1.2" rx="0.6" fill="#fff"/>
<rect x="524.4" y="506.3" width="1.8" height="1.4" rx="0.7" fill="#fff"/>
</g>
<g font-size="16.5px" fill="#000">
<text transform="translate(389.3 74.6) scale(1.0 1)">33</text>
<text transform="translate(391 98.3) scale(1.0 1)">34S</text>
<text transform="translate(354 107.3) scale(1.0 1)">31</text>
<text transform="translate(432.8 104.8) scale(1.0 1)">22</text>
<text transform="translate(408.1 119.6) scale(1.0 1)">23B</text>
<text transform="translate(437.8 133.5) scale(1.0 1)">21</text>
<text transform="translate(367.4 132.5) scale(1.0 1)">26S</text>
<text transform="translate(397.6 138.5) scale(1.0 1)">W1</text>
<text transform="translate(345.3 153.6) scale(1.0 1)">W2</text>
<text transform="translate(329 160.6) scale(1.0 1)">28</text>
<text transform="translate(379.5 161.4) scale(1.0 1)">23S</text>
<text transform="translate(459 162.4) scale(1.0 1)">20</text>
<text transform="translate(443.3 167) scale(1.0 1)">W3</text>
<text transform="translate(413.7 179.5) scale(1.0 1)">39</text>
<text transform="translate(455.4 186.5) scale(1.0 1)">19</text>
<text transform="translate(409.8 207.4) scale(1.0 1)">W4</text>
<text transform="translate(466 217.2) scale(1.0 1)">W5</text>
<text transform="translate(403.3 239.6) scale(1.0 1)">45</text>
<text transform="translate(372.4 236.5) scale(1.0 1)">43S</text>
<text transform="translate(452.2 238.3) scale(1.0 1)">W6</text>
<text transform="translate(484.3 266.7) scale(1.0 1)">W7</text>
<text transform="translate(497.7 289.8) scale(1.0 1)">16S(W14)</text>
<text transform="translate(461 292.6) scale(1.0 1)">64</text>
<text transform="translate(442.4 302.4) scale(1.0 1)">65</text>
<text transform="translate(477.6 311.4) scale(1.0 1)">68</text>
<text transform="translate(501.4 308.2) scale(1.0 1)">53</text>
<text transform="translate(497.4 323.3) scale(1.0 1)">69</text>
<text transform="translate(508.7 324.5) scale(1.0 1)">54</text>
<text transform="translate(518.2 343) scale(1.0 1)">55</text>
<text transform="translate(524.2 356.3) scale(1.0 1)">W8</text>
<text transform="translate(536.1 376.9) scale(1.0 1)">56</text>
<text transform="translate(542.7 398.9) scale(1.0 1)">W13(14)</text>
<text transform="translate(548 412.3) scale(1.0 1)">13B</text>
<text transform="translate(550.5 422) scale(1.0 1)">49S</text>
<text transform="translate(534.3 429.6) scale(1.0 1)">44S</text>
<text transform="translate(567 428.7) scale(1.0 1)">47S</text>
<text transform="translate(544.6 439) scale(1.0 1)">12B</text>
<text transform="translate(547.3 453.7) scale(1.0 1)">W9(11)</text>
<text transform="translate(550.5 456.2) scale(1.0 1)">10A</text>
<text transform="translate(522.6 460.8) scale(1.0 1)">57B</text>
<text transform="translate(531 473.3) scale(1.0 1)">W10</text>
<text transform="translate(547.3 473.2) scale(1.0 1)">10S</text>
<text transform="translate(535.5 478.5) scale(1.0 1)">W19</text>
<text transform="translate(518.4 490.5) scale(1.0 1)">36S</text>
<text transform="translate(538 489) scale(1.0 1)">9S</text>
<text transform="translate(559.5 488.1) scale(1.0 1)">W11(8)</text>
<text transform="translate(531 498.5) scale(1.0 1)">59</text>
<text transform="translate(546 497) scale(1.0 1)">P</text>
<text transform="translate(564.6 502.4) scale(1.0 1)">7</text>
<text transform="translate(529.7 507) scale(1.0 1)">60</text>
<text transform="translate(541 514.4) scale(1.0 1)">60C</text>
<text transform="translate(517.2 521) scale(1.0 1)">62</text>
<text transform="translate(525 518.5) scale(1.0 1)">W</text>
<text transform="translate(526.3 530.6) scale(1.0 1)">2</text>
<text transform="translate(536.6 529.3) scale(1.0 1)">3B</text>
<text transform="translate(542.6 528.2) scale(1.0 1)">3C</text>
</g>
<g fill="none" stroke="#111" stroke-width="0.8">
<path d="M179.6 49.2H631.8V583.5H179.6Z M184.4 54.3V578.4H627.0V54.3Z" fill="#fff" fill-rule="evenodd" stroke="none"/>
<rect x="179.6" y="49.2" width="452.2" height="534.3" stroke="#444" stroke-width="1.1"/>
<rect x="184.4" y="54.3" width="442.6" height="524.1" stroke="#000" stroke-width="1.1"/>
<path d="M179.6 49.2L184.4 54.3"/>
<path d="M631.8 49.2L627.0 54.3"/>
<path d="M179.6 583.5L184.4 578.4"/>
<path d="M631.8 583.5L627.0 578.4"/>
</g>
<rect x="184.4" y="578.4" width="36.3091" height="2.1" fill="#f7f7f7"/>
<path d="M184.4 582H220.709" stroke="#bbb" stroke-width="0.5" fill="none"/>
<path d="M184.4 580.5H220.709" stroke="#222" stroke-width="0.7" fill="none"/>
<path d="M220.709 583.5V578.4" stroke="#111" stroke-width="0.9" fill="none"/>
<rect x="220.709" y="52.2" width="41.1091" height="2.1" fill="#f7f7f7"/>
<path d="M220.709 50.7H261.818" stroke="#bbb" stroke-width="0.5" fill="none"/>
<path d="M220.709 52.2H261.818" stroke="#222" stroke-width="0.7" fill="none"/>
<path d="M220.709 49.2V54.3M261.818 49.2V54.3" stroke="#111" stroke-width="0.9" fill="none"/>
<rect x="261.818" y="578.4" width="41.1091" height="2.1" fill="#f7f7f7"/>
<path d="M261.818 582H302.927" stroke="#bbb" stroke-width="0.5" fill="none"/>
<path d="M261.818 580.5H302.927" stroke="#222" stroke-width="0.7" fill="none"/>
<path d="M261.818 583.5V578.4M302.927 583.5V578.4" stroke="#111" stroke-width="0.9" fill="none"/>
<rect x="302.927" y="52.2" width="41.1091" height="2.1" fill="#f7f7f7"/>
<path d="M302.927 50.7H344.036" stroke="#bbb" stroke-width="0.5" fill="none"/>
<path d="M302.927 52.2H344.036" stroke="#222" stroke-width="0.7" fill="none"/>
<path d="M302.927 49.2V54.3M344.036 49.2V54.3" stroke="#111" stroke-width="0.9" fill="none"/>
<rect x="344.036" y="578.4" width="41.1091" height="2.1" fill="#f7f7f7"/>
<path d="M344.036 582H385.145" stroke="#bbb" stroke-width="0.5" fill="none"/>
<path d="M344.036 580.5H385.145" stroke="#222" stroke-width="0.7" fill="none"/>
<path d="M344.036 583.5V578.4M385.145 583.5V578.4" stroke="#111" stroke-width="0.9" fill="none"/>
<rect x="385.145" y="52.2" width="41.1091" height="2.1" fill="#f7f7f7"/>
<path d="M385.145 50.7H426.255" stroke="#bbb" stroke-width="0.5" fill="none"/>
<path d="M385.145 52.2H426.255" stroke="#222" stroke-width="0.7" fill="none"/>
<path d="M385.145 49.2V54.3M426.255 49.2V54.3" stroke="#111" stroke-width="0.9" fill="none"/>
<rect x="426.255" y="578.4" width="41.1091" height="2.1" fill="#f7f7f7"/>
<path d="M426.255 582H467.364" stroke="#bbb" stroke-width="0.5" fill="none"/>
<path d="M426.255 580.5H467.364" stroke="#222" stroke-width="0.7" fill="none"/>
<path d="M426.255 583.5V578.4M467.364 583.5V578.4" stroke="#111" stroke-width="0.9" fill="none"/>
<rect x="467.364" y="52.2" width="41.1091" height="2.1" fill="#f7f7f7"/>
<path d="M467.364 50.7H508.473" stroke="#bbb" stroke-width="0.5" fill="none"/>
<path d="M467.364 52.2H508.473" stroke="#222" stroke-width="0.7" fill="none"/>
<path d="M467.364 49.2V54.3M508.473 49.2V54.3" stroke="#111" stroke-width="0.9" fill="none"/>
<rect x="508.473" y="578.4" width="41.1091" height="2.1" fill="#f7f7f7"/>
<path d="M508.473 582H549.582" stroke="#bbb" stroke-width="0.5" fill="none"/>
<path d="M508.473 580.5H549.582" stroke="#222" stroke-width="0.7" fill="none"/>
<path d="M508.473 583.5V578.4M549.582 583.5V578.4" stroke="#111" stroke-width="0.9" fill="none"/>
<rect x="549.582" y="52.2" width="41.1091" height="2.1" fill="#f7f7f7"/>
<path d="M549.582 50.7H590.691" stroke="#bbb" stroke-width="0.5" fill="none"/>
<path d="M549.582 52.2H590.691" stroke="#222" stroke-width="0.7" fill="none"/>
<path d="M549.582 49.2V54.3M590.691 49.2V54.3" stroke="#111" stroke-width="0.9" fill="none"/>
<rect x="590.691" y="578.4" width="20.5545" height="2.1" fill="#f7f7f7"/>
<path d="M590.691 582H611.245" stroke="#bbb" stroke-width="0.5" fill="none"/>
<path d="M590.691 580.5H611.245" stroke="#222" stroke-width="0.7" fill="none"/>
<path d="M590.691 583.5V578.4M611.245 583.5V578.4" stroke="#111" stroke-width="0.9" fill="none"/>
<rect x="611.245" y="52.2" width="15.7545" height="2.1" fill="#f7f7f7"/>
<path d="M611.245 50.7H627" stroke="#bbb" stroke-width="0.5" fill="none"/>
<path d="M611.245 52.2H627" stroke="#222" stroke-width="0.7" fill="none"/>
<path d="M611.245 49.2V54.3" stroke="#111" stroke-width="0.9" fill="none"/>
<path d="M628.5 54.3V118.25" stroke="#777" stroke-width="1.7" fill="none"/>
<path d="M631.8 118.25H627" stroke="#111" stroke-width="0.9" fill="none"/>
<path d="M182 118.25V187.3" stroke="#777" stroke-width="1.7" fill="none"/>
<path d="M179.6 118.25H184.4M179.6 187.3H184.4" stroke="#111" stroke-width="0.9" fill="none"/>
<path d="M628.5 187.3V254.8" stroke="#777" stroke-width="1.7" fill="none"/>
<path d="M631.8 187.3H627M631.8 254.8H627" stroke="#111" stroke-width="0.9" fill="none"/>
<path d="M182 254.8V322.3" stroke="#777" stroke-width="1.7" fill="none"/>
<path d="M179.6 254.8H184.4M179.6 322.3H184.4" stroke="#111" stroke-width="0.9" fill="none"/>
<path d="M628.5 322.3V388.45" stroke="#777" stroke-width="1.7" fill="none"/>
<path d="M631.8 322.3H627M631.8 388.45H627" stroke="#111" stroke-width="0.9" fill="none"/>
<path d="M182 388.45V454.6" stroke="#777" stroke-width="1.7" fill="none"/>
<path d="M179.6 388.45H184.4M179.6 454.6H184.4" stroke="#111" stroke-width="0.9" fill="none"/>
<path d="M628.5 454.6V519.05" stroke="#777" stroke-width="1.7" fill="none"/>
<path d="M631.8 454.6H627M631.8 519.05H627" stroke="#111" stroke-width="0.9" fill="none"/>
<path d="M182 519.05V578.4" stroke="#777" stroke-width="1.7" fill="none"/>
<path d="M179.6 519.05H184.4" stroke="#111" stroke-width="0.9" fill="none"/>
<g stroke="#000" stroke-width="1.7" fill="none">
<path d="M179.6 49.2V44.0M179.6 583.5V588.7"/>
<path d="M261.818 49.2V44.0M261.818 583.5V588.7"/>
<path d="M344.036 49.2V44.0M344.036 583.5V588.7"/>
<path d="M426.255 49.2V44.0M426.255 583.5V588.7"/>
<path d="M508.473 49.2V44.0M508.473 583.5V588.7"/>
<path d="M590.691 49.2V44.0M590.691 583.5V588.7"/>
<path d="M179.6 49.2H174.0M631.8 49.2H637.4"/>
<path d="M179.6 187.3H174.0M631.8 187.3H637.4"/>
<path d="M179.6 322.3H174.0M631.8 322.3H637.4"/>
<path d="M179.6 454.6H174.0M631.8 454.6H637.4"/>
<path d="M179.6 583.5H174.0M631.8 583.5H637.4"/>
</g>
<g font-size="20.6px" fill="#000">
<text transform="translate(167.9 59.3) scale(1.02 1)" text-anchor="end">54<tspan font-size="17.5px" dy="-9.2">o</tspan><tspan dy="9.2">N</tspan></text>
<text transform="translate(167.9 197.4) scale(1.02 1)" text-anchor="end">53<tspan font-size="17.5px" dy="-9.2">o</tspan><tspan dy="9.2">N</tspan></text>
<text transform="translate(167.9 332.4) scale(1.02 1)" text-anchor="end">52<tspan font-size="17.5px" dy="-9.2">o</tspan><tspan dy="9.2">N</tspan></text>
<text transform="translate(167.9 464.7) scale(1.02 1)" text-anchor="end">51<tspan font-size="17.5px" dy="-9.2">o</tspan><tspan dy="9.2">N</tspan></text>
<text transform="translate(167.9 593.6) scale(1.02 1)" text-anchor="end">50<tspan font-size="17.5px" dy="-9.2">o</tspan><tspan dy="9.2">N</tspan></text>
<text transform="translate(179.2 615.9) scale(1.02 1)" text-anchor="middle">101<tspan font-size="17.5px" dy="-9.2">o</tspan><tspan dy="9.2">W</tspan></text>
<text transform="translate(261.418 615.9) scale(1.02 1)" text-anchor="middle">100<tspan font-size="17.5px" dy="-9.2">o</tspan><tspan dy="9.2">W</tspan></text>
<text transform="translate(346.736 615.9) scale(1.02 1)" text-anchor="middle">99<tspan font-size="17.5px" dy="-9.2">o</tspan><tspan dy="9.2">W</tspan></text>
<text transform="translate(428.955 615.9) scale(1.02 1)" text-anchor="middle">98<tspan font-size="17.5px" dy="-9.2">o</tspan><tspan dy="9.2">W</tspan></text>
<text transform="translate(511.173 615.9) scale(1.02 1)" text-anchor="middle">97<tspan font-size="17.5px" dy="-9.2">o</tspan><tspan dy="9.2">W</tspan></text>
<text transform="translate(593.391 615.9) scale(1.02 1)" text-anchor="middle">96<tspan font-size="17.5px" dy="-9.2">o</tspan><tspan dy="9.2">W</tspan></text>
</g>
<text transform="translate(405.9 39.6) scale(1.0295 1)" text-anchor="middle" font-size="22.3px" font-weight="bold" fill="#000">2009 LakeWinnipeg 2009148-010-006 SpecificConductance (uS cm<tspan font-size="20px" dy="-9.4" dx="0">-</tspan><tspan dy="9.4" dx="-0.6">1)</tspan></text>
<rect x="648.4" y="49.50" width="32.3" height="9.14" fill="#800000"/>
<rect x="648.4" y="57.84" width="32.3" height="9.14" fill="#8F0000"/>
<rect x="648.4" y="66.19" width="32.3" height="9.14" fill="#9F0000"/>
<rect x="648.4" y="74.53" width="32.3" height="9.14" fill="#AF0000"/>
<rect x="648.4" y="82.88" width="32.3" height="9.14" fill="#BF0000"/>
<rect x="648.4" y="91.22" width="32.3" height="9.14" fill="#CF0000"/>
<rect x="648.4" y="99.56" width="32.3" height="9.14" fill="#DF0000"/>
<rect x="648.4" y="107.91" width="32.3" height="9.14" fill="#EF0000"/>
<rect x="648.4" y="116.25" width="32.3" height="9.14" fill="#FF0000"/>
<rect x="648.4" y="124.59" width="32.3" height="9.14" fill="#FF1000"/>
<rect x="648.4" y="132.94" width="32.3" height="9.14" fill="#FF2000"/>
<rect x="648.4" y="141.28" width="32.3" height="9.14" fill="#FF3000"/>
<rect x="648.4" y="149.62" width="32.3" height="9.14" fill="#FF4000"/>
<rect x="648.4" y="157.97" width="32.3" height="9.14" fill="#FF5000"/>
<rect x="648.4" y="166.31" width="32.3" height="9.14" fill="#FF6000"/>
<rect x="648.4" y="174.66" width="32.3" height="9.14" fill="#FF7000"/>
<rect x="648.4" y="183.00" width="32.3" height="9.14" fill="#FF8000"/>
<rect x="648.4" y="191.34" width="32.3" height="9.14" fill="#FF8F00"/>
<rect x="648.4" y="199.69" width="32.3" height="9.14" fill="#FF9F00"/>
<rect x="648.4" y="208.03" width="32.3" height="9.14" fill="#FFAF00"/>
<rect x="648.4" y="216.38" width="32.3" height="9.14" fill="#FFBF00"/>
<rect x="648.4" y="224.72" width="32.3" height="9.14" fill="#FFCF00"/>
<rect x="648.4" y="233.06" width="32.3" height="9.14" fill="#FFDF00"/>
<rect x="648.4" y="241.41" width="32.3" height="9.14" fill="#FFEF00"/>
<rect x="648.4" y="249.75" width="32.3" height="9.14" fill="#FFFF00"/>
<rect x="648.4" y="258.09" width="32.3" height="9.14" fill="#EFFF10"/>
<rect x="648.4" y="266.44" width="32.3" height="9.14" fill="#DFFF20"/>
<rect x="648.4" y="274.78" width="32.3" height="9.14" fill="#CFFF30"/>
<rect x="648.4" y="283.12" width="32.3" height="9.14" fill="#BFFF40"/>
<rect x="648.4" y="291.47" width="32.3" height="9.14" fill="#AFFF50"/>
<rect x="648.4" y="299.81" width="32.3" height="9.14" fill="#9FFF60"/>
<rect x="648.4" y="308.16" width="32.3" height="9.14" fill="#8FFF70"/>
<rect x="648.4" y="316.50" width="32.3" height="9.14" fill="#80FF80"/>
<rect x="648.4" y="324.84" width="32.3" height="9.14" fill="#70FF8F"/>
<rect x="648.4" y="333.19" width="32.3" height="9.14" fill="#60FF9F"/>
<rect x="648.4" y="341.53" width="32.3" height="9.14" fill="#50FFAF"/>
<rect x="648.4" y="349.88" width="32.3" height="9.14" fill="#40FFBF"/>
<rect x="648.4" y="358.22" width="32.3" height="9.14" fill="#30FFCF"/>
<rect x="648.4" y="366.56" width="32.3" height="9.14" fill="#20FFDF"/>
<rect x="648.4" y="374.91" width="32.3" height="9.14" fill="#10FFEF"/>
<rect x="648.4" y="383.25" width="32.3" height="9.14" fill="#00FFFF"/>
<rect x="648.4" y="391.59" width="32.3" height="9.14" fill="#00EFFF"/>
<rect x="648.4" y="399.94" width="32.3" height="9.14" fill="#00DFFF"/>
<rect x="648.4" y="408.28" width="32.3" height="9.14" fill="#00CFFF"/>
<rect x="648.4" y="416.62" width="32.3" height="9.14" fill="#00BFFF"/>
<rect x="648.4" y="424.97" width="32.3" height="9.14" fill="#00AFFF"/>
<rect x="648.4" y="433.31" width="32.3" height="9.14" fill="#009FFF"/>
<rect x="648.4" y="441.66" width="32.3" height="9.14" fill="#008FFF"/>
<rect x="648.4" y="450.00" width="32.3" height="9.14" fill="#0080FF"/>
<rect x="648.4" y="458.34" width="32.3" height="9.14" fill="#0070FF"/>
<rect x="648.4" y="466.69" width="32.3" height="9.14" fill="#0060FF"/>
<rect x="648.4" y="475.03" width="32.3" height="9.14" fill="#0050FF"/>
<rect x="648.4" y="483.38" width="32.3" height="9.14" fill="#0040FF"/>
<rect x="648.4" y="491.72" width="32.3" height="9.14" fill="#0030FF"/>
<rect x="648.4" y="500.06" width="32.3" height="9.14" fill="#0020FF"/>
<rect x="648.4" y="508.41" width="32.3" height="9.14" fill="#0010FF"/>
<rect x="648.4" y="516.75" width="32.3" height="9.14" fill="#0000FF"/>
<rect x="648.4" y="525.09" width="32.3" height="9.14" fill="#0000EF"/>
<rect x="648.4" y="533.44" width="32.3" height="9.14" fill="#0000DF"/>
<rect x="648.4" y="541.78" width="32.3" height="9.14" fill="#0000CF"/>
<rect x="648.4" y="550.12" width="32.3" height="9.14" fill="#0000BF"/>
<rect x="648.4" y="558.47" width="32.3" height="9.14" fill="#0000AF"/>
<rect x="648.4" y="566.81" width="32.3" height="9.14" fill="#00009F"/>
<rect x="648.4" y="575.16" width="32.3" height="8.34" fill="#00008F"/>
<rect x="648.4" y="49.5" width="32.3" height="534" fill="none" stroke="#262626" stroke-width="0.9"/>
<g stroke="#262626" stroke-width="0.9">
<path d="M680.7 516.75h-5.6"/>
<path d="M680.7 450h-5.6"/>
<path d="M680.7 383.25h-5.6"/>
<path d="M680.7 316.5h-5.6"/>
<path d="M680.7 249.75h-5.6"/>
<path d="M680.7 183h-5.6"/>
<path d="M680.7 116.25h-5.6"/>
</g><g font-size="19px" fill="#262626">
<text x="689" y="590.2">100</text>
<text x="689" y="523.45">150</text>
<text x="689" y="456.7">200</text>
<text x="689" y="389.95">250</text>
<text x="689" y="323.2">300</text>
<text x="689" y="256.45">350</text>
<text x="689" y="189.7">400</text>
<text x="689" y="122.95">450</text>
<text x="689" y="56.2">500</text>
</g>
</svg></body></html>
